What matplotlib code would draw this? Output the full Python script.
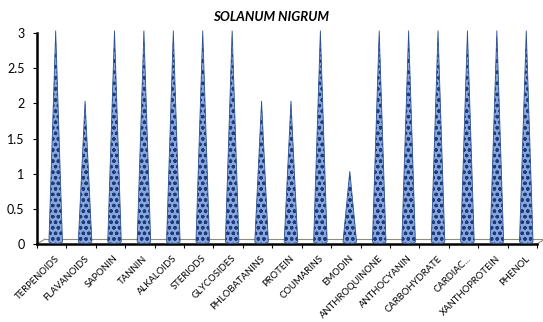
import numpy as np
import matplotlib.pyplot as plt

categories = ['TERPENOIDS', 'FLAVANOIDS', 'SAPONIN', 'TANNIN', 'ALKALOIDS',
              'STERIODS', 'GLYCOSIDES', 'PHLOBATANINS', 'PROTEIN', 'COUMARINS',
              'EMODIN', 'ANTHROQUINONE', 'ANTHOCYANIN', 'CARBOHYDRATE',
              'CARDIAC...', 'XANTHOPROTEIN', 'PHENOL']
values = [3, 2, 3, 3, 3, 3, 3, 2, 2, 3, 1, 3, 3, 3, 3, 3, 3]
yticks = [0, 0.5, 1, 1.5, 2, 2.5, 3]

plt.rcParams['font.family'] = ['Lato', 'DejaVu Sans']
plt.rcParams['hatch.linewidth'] = 0.9

fig = plt.figure(figsize=(5.43, 3.22), dpi=100)
ax = fig.add_axes([37 / 543, 78 / 322, 500 / 543, 211 / 322])
ax.set_xlim(0, len(categories))
ax.set_ylim(0, 3)

# floor depth (back edge offset) in data units
depth_x, depth_y = 0.27, 0.07
n = len(categories)

# floor: back line and the two side edges
ax.plot([depth_x, n + depth_x], [depth_y, depth_y], color='#8c8c7a', lw=0.8, clip_on=False)
ax.plot([0, depth_x], [0, depth_y], color='#8c8c7a', lw=0.8, clip_on=False)
ax.plot([n, n + depth_x], [0, depth_y], color='#8c8c7a', lw=0.8, clip_on=False)

# cones sit in the middle of the floor depth
half_w = 0.23
t = np.linspace(np.pi, 2 * np.pi, 20)
for i, v in enumerate(values):
    c = i + 0.5 + depth_x / 2
    base = depth_y / 2
    bx = c + half_w * np.cos(t)
    by = base + 0.03 * np.sin(t)
    xs = np.concatenate([[c], bx])
    ys = np.concatenate([[v + base], by])
    ax.fill(xs, ys, facecolor='#86a6dc', edgecolor='#1d3b7c', hatch='ooo',
            lw=0, clip_on=False, zorder=3)
    ax.fill(xs, ys, facecolor='none', edgecolor='#2f5292', lw=0.6,
            clip_on=False, zorder=4)

for side in ['top', 'right']:
    ax.spines[side].set_visible(False)
ax.spines['left'].set_linewidth(1.8)
ax.spines['bottom'].set_linewidth(1.8)

ax.set_yticks(yticks)
ax.set_yticklabels(['0', '0.5', '1', '1.5', '2', '2.5', '3'], fontsize=9)
ax.tick_params(axis='y', length=3, width=0.8, pad=6)

ax.set_xticks(np.arange(n + 1))
ax.set_xticklabels([])
ax.tick_params(axis='x', length=3, width=0.8)
for i, name in enumerate(categories):
    ax.text(i + 0.6, -0.14, name, rotation=45, ha='right', va='top',
            rotation_mode='anchor', fontsize=6.8)

fig.text(0.5, 1 - 17 / 322, 'SOLANUM NIGRUM', ha='center', va='center',
         fontsize=9.5, fontweight='bold', fontstyle='italic')

fig.savefig('out.png', dpi=100)
